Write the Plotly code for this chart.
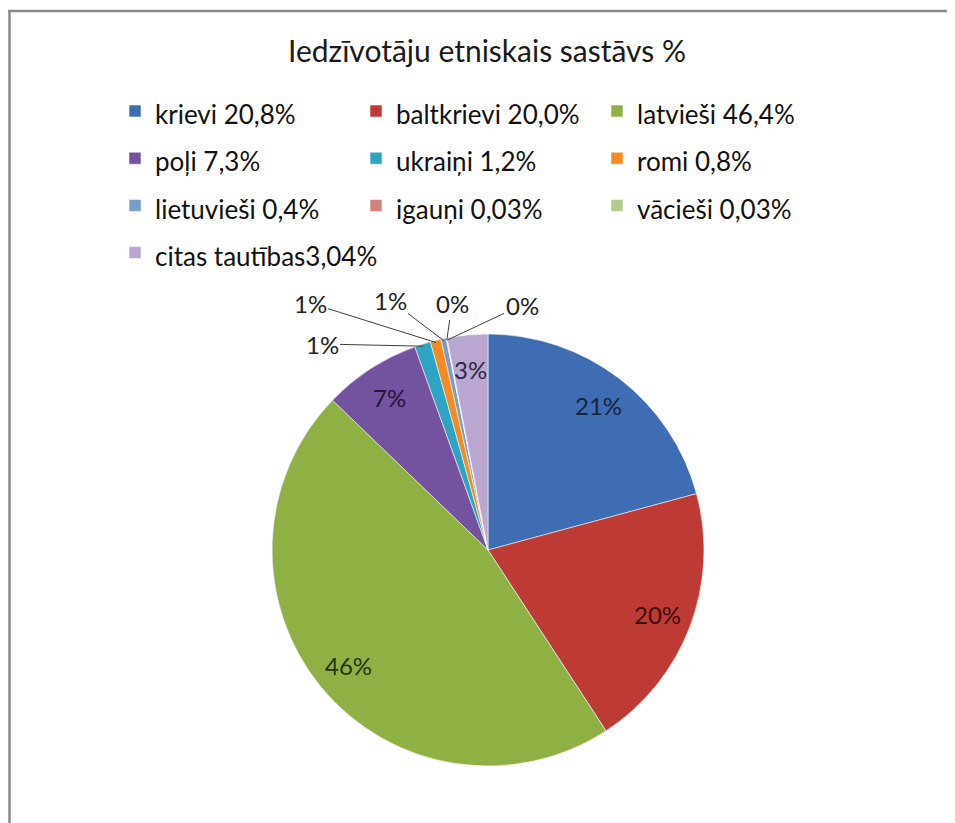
import math
import plotly.graph_objects as go

# ---- data ----
categories = ["krievi 20,8%", "baltkrievi 20,0%", "latvieši 46,4%", "poļi 7,3%",
              "ukraiņi 1,2%", "romi 0,8%", "lietuvieši 0,4%", "igauņi 0,03%",
              "vācieši 0,03%", "citas tautības3,04%"]
values = [20.8, 20.0, 46.4, 7.3, 1.2, 0.8, 0.4, 0.03, 0.03, 3.04]
percent_labels = ["21%", "20%", "46%", "7%", "1%", "1%", "1%", "0%", "0%", "3%"]
title_text = "Iedzīvotāju etniskais sastāvs %"

# ---- style ----
slice_colors = ["#3F6DB3", "#BE3A35", "#8FB144", "#7352A0", "#2EA3C2", "#F58A22",
                "#7A9CCB", "#D5807D", "#B2CB8A", "#B9A7D2"]
label_colors = ["#16243F", "#3F0C0C", "#26340C", "#25163A", "#333333", "#333333",
                "#333333", "#333333", "#333333", "#2E2840"]
inside_idx = [0, 1, 2, 3, 9]
# outside label text centres (screen pixels), for the thin slices
outside_pos = {4: (322, 344), 5: (310, 303), 6: (390, 300), 7: (452, 304), 8: (522, 305)}

W, H = 955, 823
OFF = 8  # page body margin
CX, CY, R = 488 - OFF, 550 - OFF, 216
FONT = "Lato"


def px_to_paper(x, y):
    return x / W, 1 - y / H


fig = go.Figure()
fig.add_trace(go.Pie(
    labels=[f'<span style="font-size:26px">{c}</span>' for c in categories],
    values=values,
    sort=False,
    direction="clockwise",
    rotation=0,
    textinfo="none",
    hoverinfo="label+value",
    marker=dict(colors=slice_colors, line=dict(color="rgba(255,255,255,0.55)", width=1)),
    domain=dict(x=[(CX - R) / W, (CX + R) / W], y=[1 - (CY + R) / H, 1 - (CY - R) / H]),
    showlegend=True,
))

total = sum(values)
cum = 0.0
annotations = []
for i, v in enumerate(values):
    mid = (cum + v / 2) / total
    cum += v
    th = 2 * math.pi * mid
    if i in inside_idx:
        r = 0.84 * R
        x, y = CX + r * math.sin(th), CY - r * math.cos(th)
        xp, yp = px_to_paper(x, y)
        annotations.append(dict(x=xp, y=yp, xref="paper", yref="paper", text=percent_labels[i],
                                xanchor="center", yanchor="middle", showarrow=False,
                                font=dict(family=FONT, size=24, color=label_colors[i])))
    else:
        r = 0.99 * R
        tx, ty = CX + r * math.sin(th), CY - r * math.cos(th)
        xp, yp = px_to_paper(tx, ty)
        lx, ly = outside_pos[i]
        lx, ly = lx - OFF, ly - OFF
        annotations.append(dict(x=xp, y=yp, xref="paper", yref="paper", text=percent_labels[i],
                                showarrow=True, arrowhead=0, arrowwidth=1, arrowcolor="#404040",
                                ax=lx - tx, ay=ly - ty, standoff=0,
                                font=dict(family=FONT, size=24, color="#222222")))

tx_, ty_ = px_to_paper(487 - OFF, 50 - OFF)
annotations.append(dict(x=tx_, y=ty_, xref="paper", yref="paper", xanchor="center", yanchor="middle",
                        text=title_text, showarrow=False,
                        font=dict(family=FONT, size=30, color="#1a1a1a")))

fig.update_layout(
    width=W, height=H,
    margin=dict(l=0, r=0, t=0, b=0, autoexpand=False),
    paper_bgcolor="white", plot_bgcolor="white",
    annotations=annotations,
    legend=dict(orientation="h", xref="container", yref="container",
                x=107 / W, xanchor="left", y=1 - 74.4 / H, yanchor="top",
                entrywidth=196, entrywidthmode="pixels", traceorder="normal",
                font=dict(family=FONT, size=34, color="#111111"), bgcolor="rgba(0,0,0,0)"),
    shapes=[
        dict(type="line", xref="paper", yref="paper", x0=0, x1=1, y0=1 - 3 / H, y1=1 - 3 / H,
             line=dict(color="#8A8A8A", width=2.5)),
        dict(type="line", xref="paper", yref="paper", x0=1.5 / W, x1=1.5 / W, y0=0, y1=1 - 2 / H,
             line=dict(color="#8A8A8A", width=2.5)),
    ],
)

fig.write_html("out.html")
